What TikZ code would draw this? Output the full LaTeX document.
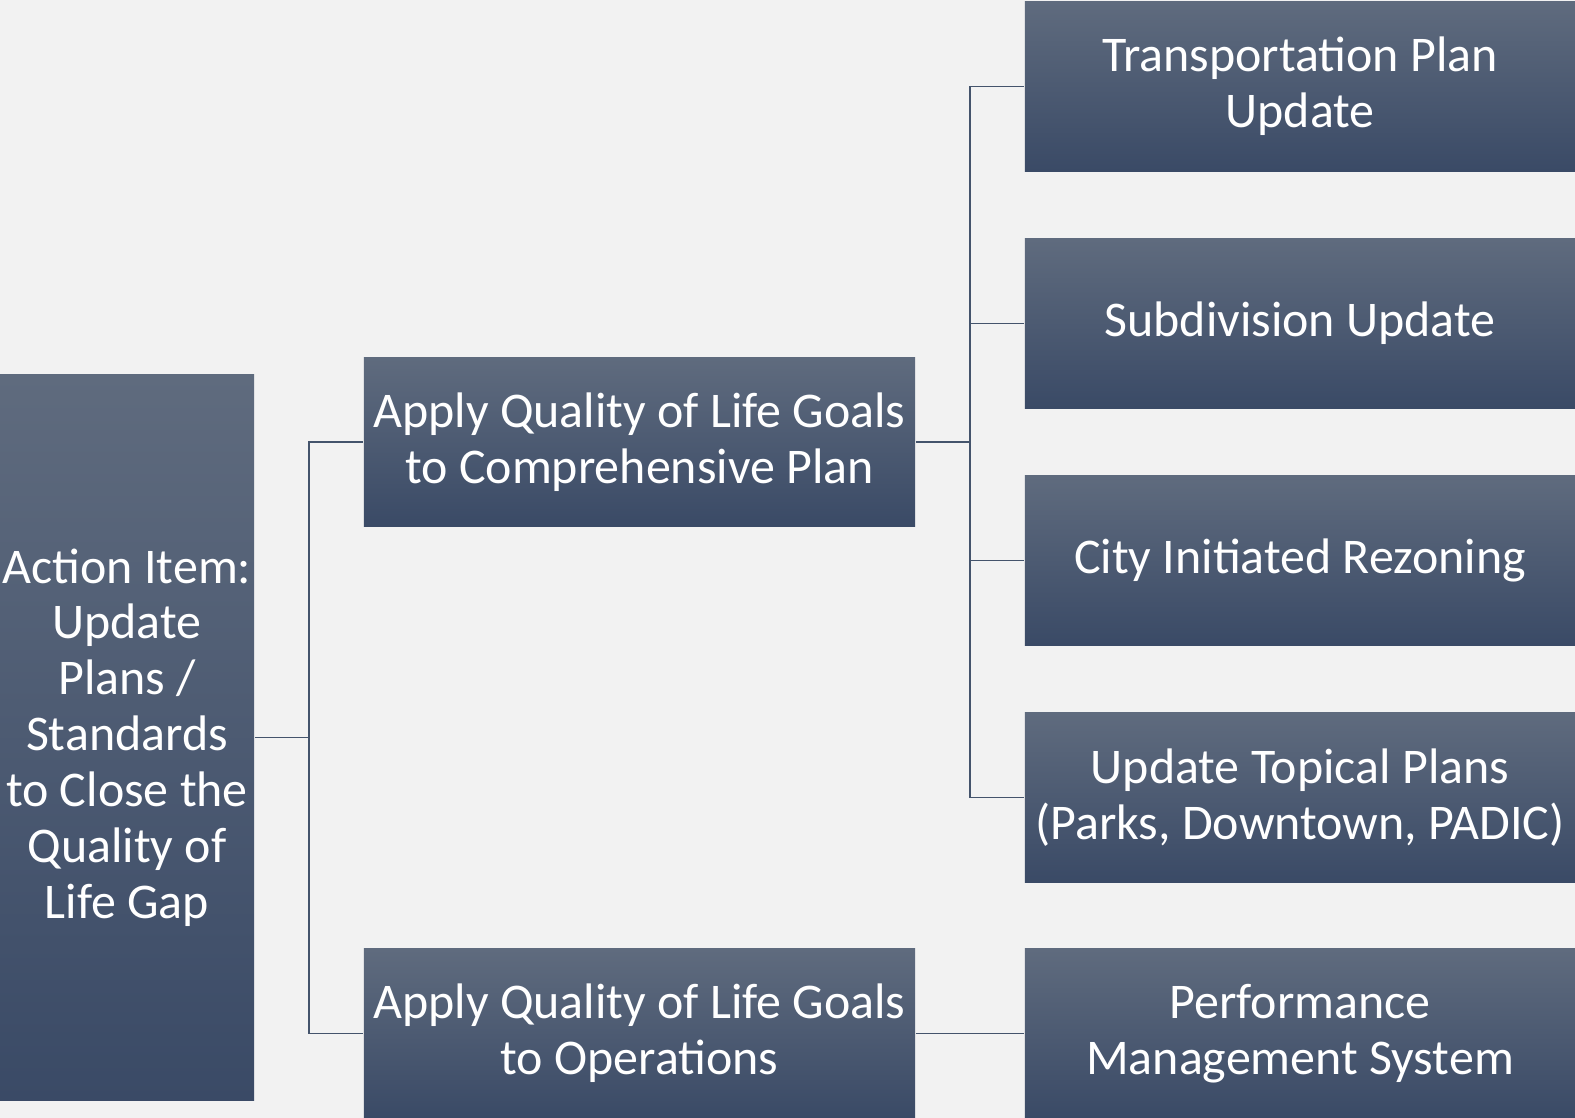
\documentclass[tikz,border=0pt]{standalone}
\usepackage{fontspec}
\setmainfont{Carlito}
\definecolor{boxtop}{HTML}{5F6B7E}
\definecolor{boxbot}{HTML}{3A4A66}
\definecolor{paper}{HTML}{F2F2F2}
\definecolor{wire}{HTML}{44546C}
\begin{document}
\begin{tikzpicture}[x=0.01cm, y=-0.01cm,
    tbox/.style={rectangle, top color=boxtop, bottom color=boxbot, draw=none,
      text=white, align=center, inner sep=0pt,
      font=\fontsize{14.2pt}{15.9pt}\selectfont},
    wide/.style={tbox, minimum width=5.5cm, minimum height=1.69cm},
    wire/.style={draw=wire, line width=0.4pt}]
  % Page background and size
  \fill[paper] (0,0) rectangle (1575,1118);
  \useasboundingbox (0,0) rectangle (1575,1118);

  % Root box on the left
  \node[tbox, minimum width=2.54cm, minimum height=7.25cm] (root) at (127,737.5)
    {Action Item:\\Update\\Plans /\\Standards\\to Close the\\Quality of\\Life Gap};

  % Second level
  \node[wide, minimum width=5.51cm] (comp) at (639.5,442)
    {Apply Quality of Life Goals\\to Comprehensive Plan};
  \node[wide, minimum width=5.51cm] (ops) at (639.5,1033.5)
    {Apply Quality of Life Goals\\to Operations};

  % Third level
  \node[wide] (trans) at (1300,86.5) {Transportation Plan\\Update};
  \node[wide] (subdiv) at (1300,323.5) {Subdivision Update};
  \node[wide] (rezone) at (1300,560.5) {City Initiated Rezoning};
  \node[wide] (topic) at (1300,797.5) {Update Topical Plans\\(Parks, Downtown, PADIC)};
  \node[wide] (perf) at (1300,1033.5) {Performance\\Management System};

  % Elbow connectors
  \coordinate (j1) at (309,737.5);
  \coordinate (j2) at (970,442);
  \draw[wire] (root.east) -- (j1) |- (comp.west);
  \draw[wire] (j1) |- (ops.west);
  \draw[wire] (comp.east) -- (j2) |- (trans.west);
  \draw[wire] (j2) |- (subdiv.west);
  \draw[wire] (j2) |- (rezone.west);
  \draw[wire] (j2) |- (topic.west);
  \draw[wire] (ops.east) -- (perf.west);
\end{tikzpicture}
\end{document}
